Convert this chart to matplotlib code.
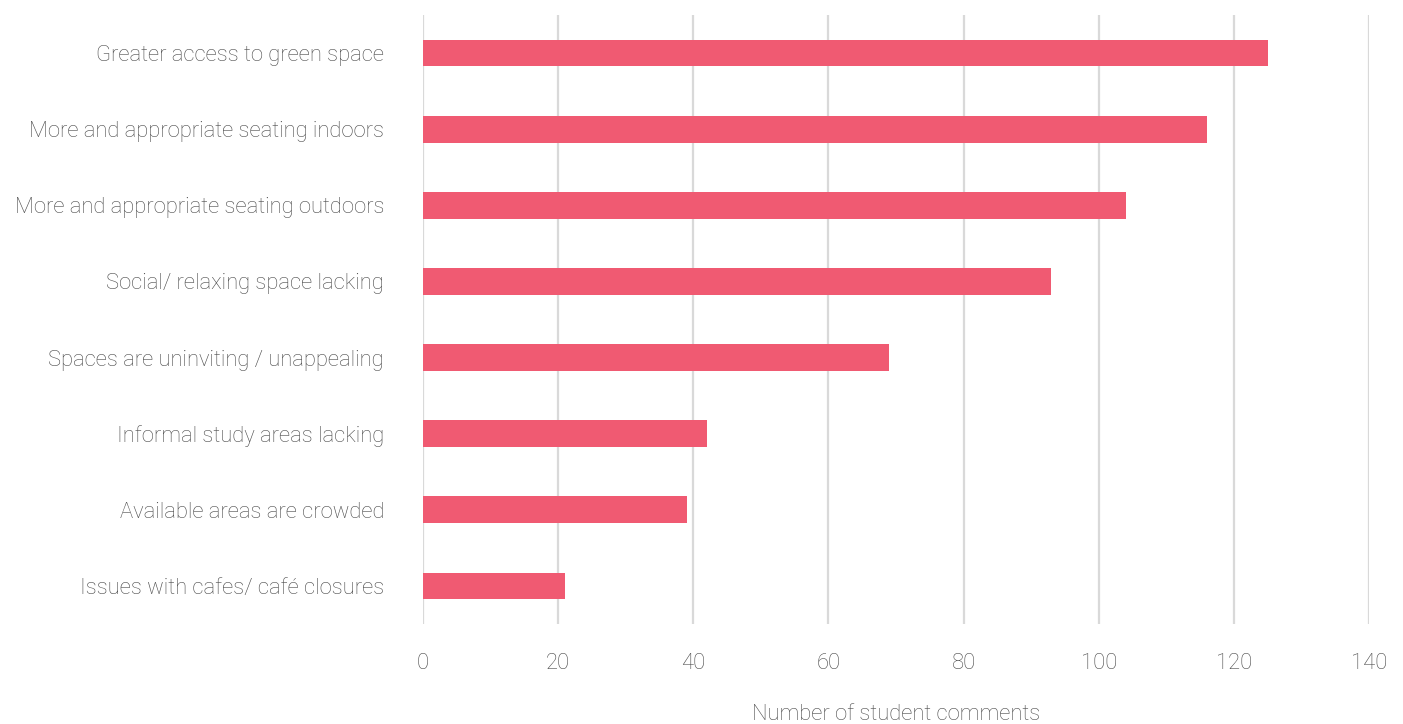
import matplotlib.pyplot as plt

plt.rcParams['font.family'] = ['Roboto', 'DejaVu Sans']
plt.rcParams['font.weight'] = 'light'

categories = ['Greater access to green space',
              'More and appropriate seating indoors',
              'More and appropriate seating outdoors',
              'Social/ relaxing space lacking',
              'Spaces are uninviting / unappealing',
              'Informal study areas lacking',
              'Available areas are crowded',
              'Issues with cafes/ café closures']
comments = [125, 116, 104, 93, 69, 42, 39, 21]
x_ticks = [0, 20, 40, 60, 80, 100, 120, 140]

W, H = 1403, 724
fig = plt.figure(figsize=(W / 100, H / 100), dpi=100)
ax = fig.add_axes([423 / W, (H - 624) / H, (1369 - 423) / W, (624 - 15) / H])

pos = list(range(len(categories)))
ax.barh(pos, comments, height=0.35, color='#f05a72', zorder=3)

ax.set_xlim(0, 140)
ax.set_ylim(len(categories) - 0.5, -0.5)
ax.set_xticks(x_ticks)
ax.set_yticks(pos)
ax.set_yticklabels(categories)
ax.xaxis.grid(True, color='#d9d9d9', linewidth=1.6, zorder=0)

for s in ax.spines.values():
    s.set_visible(False)
ax.tick_params(axis='both', length=0, labelcolor='#4a4a4a', labelsize=15.8)
ax.tick_params(axis='y', pad=28)
ax.tick_params(axis='x', pad=21)

# axis title sits well below the tick labels
fig.text((423 + 1369) / 2 / W, (H - 715) / H, 'Number of student comments',
         fontsize=15.8, color='#4a4a4a', ha='center', va='center')

fig.savefig('out.png', dpi=100)
